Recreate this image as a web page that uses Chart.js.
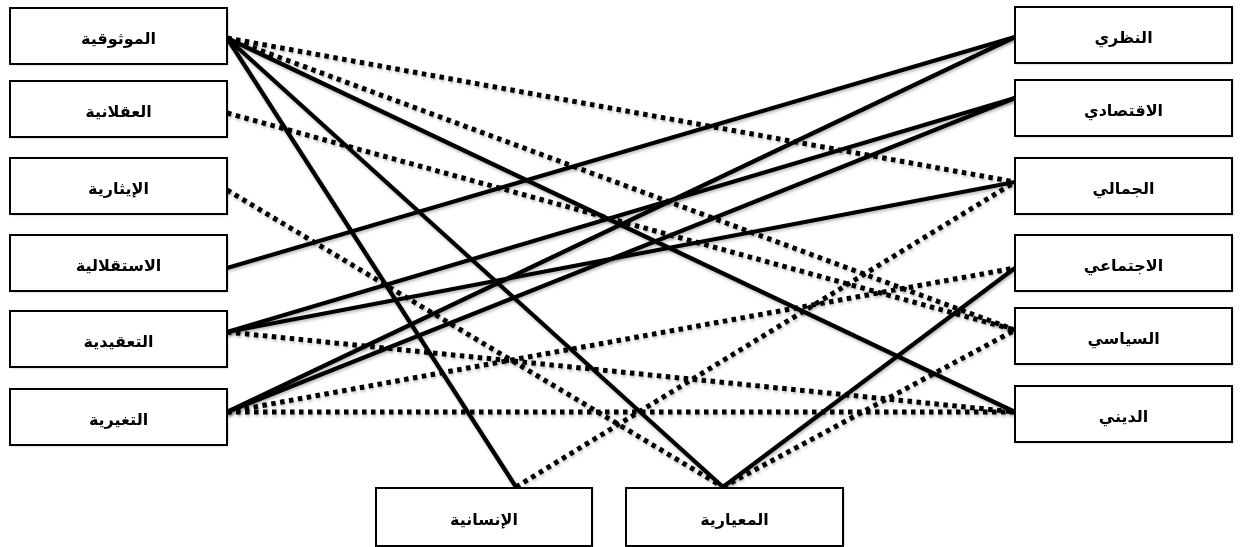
<!DOCTYPE html>
<html lang="ar">
<head>
  <meta charset="UTF-8" />
  <title>القيم والأنماط</title>
  <script src="https://cdn.jsdelivr.net/npm/chart.js"></script>
  <style>
    html, body { margin: 0; padding: 0; background: #fff; }
    #wrap { width: 1240px; height: 547px; }
  </style>
</head>
<body>
<div id="wrap"><canvas id="diagram" width="1240" height="547"></canvas></div>

<script>
  // nodes
  const leftLabels = ["الموثوقية", "العقلانية", "الإيثارية", "الاستقلالية", "التعقيدية", "التغيرية"];
  const rightLabels = ["النظري", "الاقتصادي", "الجمالي", "الاجتماعي", "السياسي", "الديني"];
  const bottomLabels = ["الإنسانية", "المعيارية"];

  // links
  const solidLinks = [
    ["الموثوقية", "الديني"],
    ["الموثوقية", "المعيارية"],
    ["الموثوقية", "الإنسانية"],
    ["الاستقلالية", "النظري"],
    ["التعقيدية", "الاقتصادي"],
    ["التعقيدية", "الجمالي"],
    ["التغيرية", "النظري"],
    ["التغيرية", "الاقتصادي"],
    ["المعيارية", "الاجتماعي"]
  ];
  const dottedLinks = [
    ["الموثوقية", "الجمالي"],
    ["الموثوقية", "السياسي"],
    ["العقلانية", "السياسي"],
    ["الإيثارية", "المعيارية"],
    ["التعقيدية", "الديني"],
    ["التغيرية", "الاجتماعي"],
    ["التغيرية", "الديني"],
    ["الإنسانية", "الجمالي"],
    ["المعيارية", "السياسي"]
  ];

  // layout (diagram units = page pixels)
  const leftTops = [8, 81, 158, 235, 311, 389];
  const leftAnchorY = [38, 113, 190, 268, 332, 412];
  const rightTops = [7, 80, 158, 235, 308, 386];
  const rightAnchorY = [37, 98, 182, 268, 330, 412];
  const boxH = 56;

  const nodes = {};
  leftLabels.forEach((name, i) => {
    nodes[name] = { x0: 10, x1: 227, y0: leftTops[i], y1: leftTops[i] + boxH, ax: 227, ay: leftAnchorY[i] };
  });
  rightLabels.forEach((name, i) => {
    nodes[name] = { x0: 1015, x1: 1232, y0: rightTops[i], y1: rightTops[i] + boxH, ax: 1015, ay: rightAnchorY[i] };
  });
  nodes[bottomLabels[0]] = { x0: 376, x1: 592, y0: 488, y1: 546, ax: 516, ay: 487 };
  nodes[bottomLabels[1]] = { x0: 626, x1: 843, y0: 488, y1: 546, ax: 723, ay: 487 };

  function linkSet(pair, dotted) {
    const a = nodes[pair[0]], b = nodes[pair[1]];
    return {
      data: [{ x: a.ax, y: a.ay }, { x: b.ax, y: b.ay }],
      showLine: true,
      borderColor: "#000",
      borderWidth: dotted ? 5 : 4.2,
      borderDash: dotted ? [4.5, 4.5] : [],
      borderCapStyle: "butt",
      pointRadius: 0
    };
  }

  const datasets = solidLinks.map(p => linkSet(p, false))
    .concat(dottedLinks.map(p => linkSet(p, true)));

  const shadowPlugin = {
    id: "shadow",
    beforeDatasetsDraw(chart) {
      const ctx = chart.ctx;
      ctx.save();
      ctx.shadowColor = "rgba(0,0,0,0.25)";
      ctx.shadowBlur = 3;
      ctx.shadowOffsetX = 1;
      ctx.shadowOffsetY = 2;
    },
    afterDatasetsDraw(chart) {
      chart.ctx.restore();
    }
  };

  const boxPlugin = {
    id: "boxes",
    afterDraw(chart) {
      const ctx = chart.ctx;
      const xs = chart.scales.x, ys = chart.scales.y;
      Object.keys(nodes).forEach(name => {
        const n = nodes[name];
        const x0 = xs.getPixelForValue(n.x0), x1 = xs.getPixelForValue(n.x1);
        const y0 = ys.getPixelForValue(n.y0), y1 = ys.getPixelForValue(n.y1);
        ctx.save();
        ctx.shadowColor = "rgba(0,0,0,0.3)";
        ctx.shadowBlur = 2;
        ctx.shadowOffsetX = 1;
        ctx.shadowOffsetY = 1;
        ctx.fillStyle = "#fff";
        ctx.fillRect(x0, y0, x1 - x0, y1 - y0);
        ctx.shadowColor = "transparent";
        ctx.strokeStyle = "#000";
        ctx.lineWidth = 2;
        ctx.strokeRect(x0, y0, x1 - x0, y1 - y0);
        ctx.fillStyle = "#000";
        ctx.font = "bold 16px 'DejaVu Sans', sans-serif";
        ctx.textAlign = "center";
        ctx.textBaseline = "middle";
        ctx.direction = "rtl";
        ctx.fillText(name, (x0 + x1) / 2, (y0 + y1) / 2 + 4);
        ctx.restore();
      });
    }
  };

  new Chart(document.getElementById("diagram"), {
    type: "scatter",
    data: { datasets: datasets },
    options: {
      responsive: false,
      animation: false,
      layout: { padding: 0 },
      scales: {
        x: { type: "linear", min: 0, max: 1240, display: false },
        y: { type: "linear", min: 0, max: 547, reverse: true, display: false }
      },
      plugins: { legend: { display: false }, tooltip: { enabled: false } }
    },
    plugins: [shadowPlugin, boxPlugin]
  });
</script>
</body>
</html>
